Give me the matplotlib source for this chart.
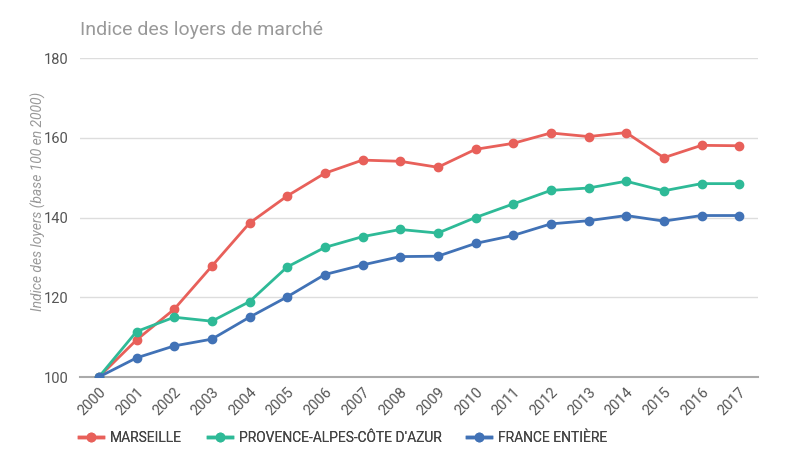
import matplotlib.pyplot as plt
from matplotlib.lines import Line2D

years = list(range(2000, 2018))
marseille = [100, 109.3, 117.0, 127.8, 138.6, 145.4, 151.1, 154.4, 154.1, 152.6,
             157.1, 158.6, 161.2, 160.3, 161.3, 155.0, 158.1, 158.0]
paca = [100, 111.4, 115.0, 114.0, 118.9, 127.6, 132.5, 135.2, 137.0, 136.1,
        140.0, 143.4, 146.8, 147.4, 149.1, 146.7, 148.5, 148.5]
france = [100, 104.8, 107.8, 109.5, 115.0, 120.1, 125.7, 128.1, 130.2, 130.3,
          133.5, 135.5, 138.4, 139.2, 140.5, 139.1, 140.5, 140.5]
series_names = ["MARSEILLE", "PROVENCE-ALPES-CÔTE D'AZUR", "FRANCE ENTIÈRE"]
colors = ["#e8605a", "#2eba97", "#4172b6"]

plt.rcParams['font.family'] = ['Roboto', 'DejaVu Sans']

fig = plt.figure(figsize=(8, 4.63), dpi=100)
ax = fig.add_axes([0.1, 0.1857, 0.8475, 0.689])

for vals, col in zip([marseille, paca, france], colors):
    ax.plot(years, vals, color=col, lw=2, marker='o', ms=6, zorder=3)

ax.set_xlim(1999.5, 2017.5)
ax.set_ylim(100, 180)
ax.set_yticks([100, 120, 140, 160, 180])
ax.set_xticks(years)
ax.set_xticklabels([str(y) for y in years], rotation=45, ha='right',
                   rotation_mode='anchor', fontsize=10.5, color='#555555')
ax.tick_params(axis='y', labelsize=10.5, labelcolor='#555555', length=0, pad=8)
ax.tick_params(axis='x', length=0, pad=6)
ax.grid(axis='y', color='#dddddd', lw=1)
for s in ['top', 'right', 'left']:
    ax.spines[s].set_visible(False)
ax.spines['bottom'].set_color('#aaaaaa')
ax.spines['bottom'].set_linewidth(1.5)
ax.set_axisbelow(True)

ax.set_ylabel('Indice des loyers (base 100 en 2000)', fontsize=10,
              color='#999999', style='italic')
ax.yaxis.set_label_coords(-0.05, 0.55)
fig.text(0.1, 0.925, 'Indice des loyers de marché', fontsize=14, color='#999999')

# one legend per entry so each can sit where the reference puts it
legend_x = [0.099, 0.26, 0.584]
for name, col, lx in zip(series_names, colors, legend_x):
    h = Line2D([0], [0], color=col, lw=2.5, marker='o', ms=6)
    leg = fig.legend([h], [name], loc='center left', bbox_to_anchor=(lx, 0.054),
                     frameon=False, fontsize=10, handlelength=1.7,
                     handletextpad=0.5, borderpad=0, borderaxespad=0,
                     labelcolor='#444444')
    fig.add_artist(leg)

fig.savefig('out.png', dpi=100)
